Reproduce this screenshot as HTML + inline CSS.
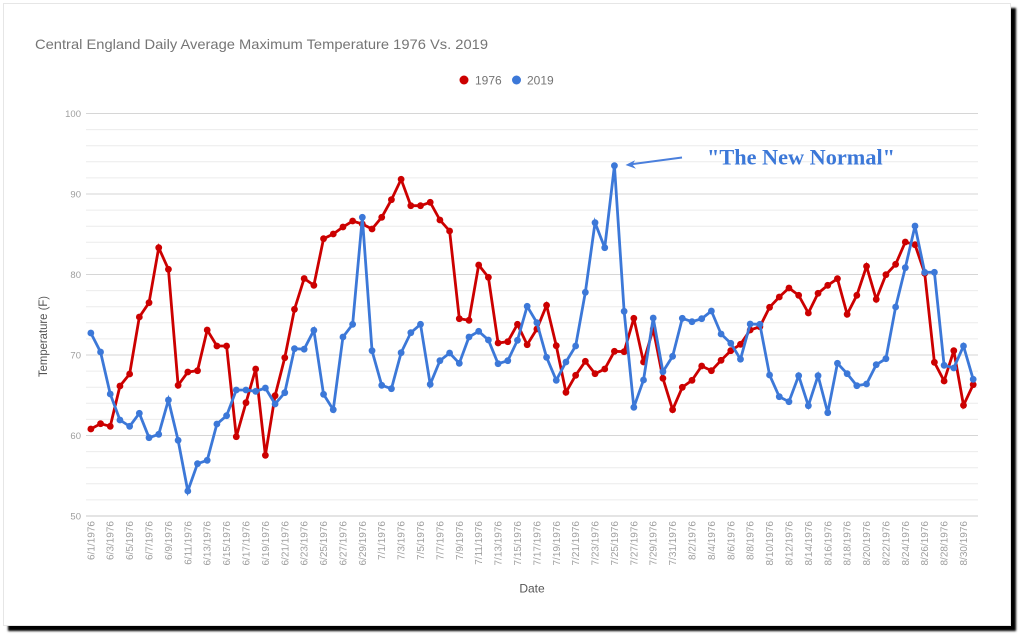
<!DOCTYPE html>
<html>
<head>
<meta charset="utf-8">
<style>
  html,body{margin:0;padding:0;background:#fff;width:1024px;height:640px;overflow:hidden;}
  .card{position:absolute;left:3px;top:3px;width:1008px;height:623px;background:#fff;border:1px solid #e6e6e6;box-sizing:border-box;box-shadow:5px 5px 2px #000;}
  svg{position:absolute;left:0;top:0;}
  text{font-family:"Liberation Sans",Arial,sans-serif;}
  .xl{font-size:10px;fill:#9e9e9e;}
  .yl{font-size:9.5px;fill:#9e9e9e;}
  text.ann{font-family:"Liberation Serif","DejaVu Serif",serif;font-weight:bold;}
</style>
</head>
<body>
<div class="card"></div>
<svg width="1024" height="640" viewBox="0 0 1024 640" xmlns="http://www.w3.org/2000/svg">
  <defs>
    <marker id="mr" markerWidth="8" markerHeight="8" refX="4" refY="4" markerUnits="userSpaceOnUse"><circle cx="4" cy="4" r="3.4" fill="#cc0000"/></marker>
    <marker id="mb" markerWidth="8" markerHeight="8" refX="4" refY="4" markerUnits="userSpaceOnUse"><circle cx="4" cy="4" r="3.4" fill="#3c78d8"/></marker>
  </defs>

  <!-- title -->
  <text x="35" y="49" font-size="14" fill="#757575" textLength="453" lengthAdjust="spacingAndGlyphs">Central England Daily Average Maximum Temperature 1976 Vs. 2019</text>

  <!-- legend -->
  <circle cx="464" cy="80" r="4.5" fill="#cc0000"/>
  <text x="475" y="84.3" font-size="12" fill="#757575">1976</text>
  <circle cx="516.5" cy="80" r="4.5" fill="#3c78d8"/>
  <text x="527" y="84.3" font-size="12" fill="#757575">2019</text>

  <!-- minor gridlines -->
  <g stroke="#ececec" stroke-width="1">
    <line x1="86" x2="978" y1="499.9" y2="499.9"/><line x1="86" x2="978" y1="483.8" y2="483.8"/><line x1="86" x2="978" y1="467.7" y2="467.7"/><line x1="86" x2="978" y1="451.6" y2="451.6"/>
    <line x1="86" x2="978" y1="419.4" y2="419.4"/><line x1="86" x2="978" y1="403.3" y2="403.3"/><line x1="86" x2="978" y1="387.2" y2="387.2"/><line x1="86" x2="978" y1="371.1" y2="371.1"/>
    <line x1="86" x2="978" y1="338.9" y2="338.9"/><line x1="86" x2="978" y1="322.8" y2="322.8"/><line x1="86" x2="978" y1="306.7" y2="306.7"/><line x1="86" x2="978" y1="290.6" y2="290.6"/>
    <line x1="86" x2="978" y1="258.4" y2="258.4"/><line x1="86" x2="978" y1="242.3" y2="242.3"/><line x1="86" x2="978" y1="226.2" y2="226.2"/><line x1="86" x2="978" y1="210.1" y2="210.1"/>
    <line x1="86" x2="978" y1="177.9" y2="177.9"/><line x1="86" x2="978" y1="161.8" y2="161.8"/><line x1="86" x2="978" y1="145.7" y2="145.7"/><line x1="86" x2="978" y1="129.6" y2="129.6"/>
  </g>
  <!-- major gridlines -->
  <g stroke="#d6d6d6" stroke-width="1">
    <line x1="86" x2="978" y1="113.5" y2="113.5"/>
    <line x1="86" x2="978" y1="194" y2="194"/>
    <line x1="86" x2="978" y1="274.5" y2="274.5"/>
    <line x1="86" x2="978" y1="355" y2="355"/>
    <line x1="86" x2="978" y1="435.5" y2="435.5"/>
  </g>
  <line x1="86" x2="978" y1="516" y2="516" stroke="#c8c8c8" stroke-width="1"/>

  <!-- y labels -->
  <g class="yl" text-anchor="end">
    <text x="81" y="116.8">100</text>
    <text x="81" y="197.3">90</text>
    <text x="81" y="277.8">80</text>
    <text x="81" y="358.3">70</text>
    <text x="81" y="438.8">60</text>
    <text x="81" y="519.3">50</text>
  </g>

  <!-- y axis title -->
  <text transform="translate(47,336.5) rotate(-90)" text-anchor="middle" font-size="12" fill="#555" textLength="81" lengthAdjust="spacingAndGlyphs">Temperature (F)</text>

  <!-- x labels -->
  <g class="xl" text-anchor="end">
    <text transform="translate(94.35,521) rotate(-90)">6/1/1976</text>
    <text transform="translate(113.74,521) rotate(-90)">6/3/1976</text>
    <text transform="translate(133.13,521) rotate(-90)">6/5/1976</text>
    <text transform="translate(152.53,521) rotate(-90)">6/7/1976</text>
    <text transform="translate(171.92,521) rotate(-90)">6/9/1976</text>
    <text transform="translate(191.31,521) rotate(-90)">6/11/1976</text>
    <text transform="translate(210.7,521) rotate(-90)">6/13/1976</text>
    <text transform="translate(230.09,521) rotate(-90)">6/15/1976</text>
    <text transform="translate(249.49,521) rotate(-90)">6/17/1976</text>
    <text transform="translate(268.88,521) rotate(-90)">6/19/1976</text>
    <text transform="translate(288.27,521) rotate(-90)">6/21/1976</text>
    <text transform="translate(307.66,521) rotate(-90)">6/23/1976</text>
    <text transform="translate(327.05,521) rotate(-90)">6/25/1976</text>
    <text transform="translate(346.45,521) rotate(-90)">6/27/1976</text>
    <text transform="translate(365.84,521) rotate(-90)">6/29/1976</text>
    <text transform="translate(385.23,521) rotate(-90)">7/1/1976</text>
    <text transform="translate(404.62,521) rotate(-90)">7/3/1976</text>
    <text transform="translate(424.01,521) rotate(-90)">7/5/1976</text>
    <text transform="translate(443.41,521) rotate(-90)">7/7/1976</text>
    <text transform="translate(462.8,521) rotate(-90)">7/9/1976</text>
    <text transform="translate(482.19,521) rotate(-90)">7/11/1976</text>
    <text transform="translate(501.58,521) rotate(-90)">7/13/1976</text>
    <text transform="translate(520.97,521) rotate(-90)">7/15/1976</text>
    <text transform="translate(540.37,521) rotate(-90)">7/17/1976</text>
    <text transform="translate(559.76,521) rotate(-90)">7/19/1976</text>
    <text transform="translate(579.15,521) rotate(-90)">7/21/1976</text>
    <text transform="translate(598.54,521) rotate(-90)">7/23/1976</text>
    <text transform="translate(617.93,521) rotate(-90)">7/25/1976</text>
    <text transform="translate(637.33,521) rotate(-90)">7/27/1976</text>
    <text transform="translate(656.72,521) rotate(-90)">7/29/1976</text>
    <text transform="translate(676.11,521) rotate(-90)">7/31/1976</text>
    <text transform="translate(695.5,521) rotate(-90)">8/2/1976</text>
    <text transform="translate(714.89,521) rotate(-90)">8/4/1976</text>
    <text transform="translate(734.29,521) rotate(-90)">8/6/1976</text>
    <text transform="translate(753.68,521) rotate(-90)">8/8/1976</text>
    <text transform="translate(773.07,521) rotate(-90)">8/10/1976</text>
    <text transform="translate(792.46,521) rotate(-90)">8/12/1976</text>
    <text transform="translate(811.85,521) rotate(-90)">8/14/1976</text>
    <text transform="translate(831.25,521) rotate(-90)">8/16/1976</text>
    <text transform="translate(850.64,521) rotate(-90)">8/18/1976</text>
    <text transform="translate(870.03,521) rotate(-90)">8/20/1976</text>
    <text transform="translate(889.42,521) rotate(-90)">8/22/1976</text>
    <text transform="translate(908.81,521) rotate(-90)">8/24/1976</text>
    <text transform="translate(928.21,521) rotate(-90)">8/26/1976</text>
    <text transform="translate(947.6,521) rotate(-90)">8/28/1976</text>
    <text transform="translate(966.99,521) rotate(-90)">8/30/1976</text>
  </g>

  <!-- x axis title -->
  <text x="532" y="592.3" text-anchor="middle" font-size="12" fill="#555">Date</text>

  <!-- 1976 series -->
  <polyline fill="none" stroke="#cc0000" stroke-width="2.8" marker-start="url(#mr)" marker-mid="url(#mr)" marker-end="url(#mr)"
    points="90.85,429 100.55,423.7 110.24,426.3 119.94,386 129.63,374 139.33,317 149.03,302.7 158.72,247.7 168.42,269.3 178.11,385.3 187.81,372 197.51,370.7 207.2,330 216.9,346 226.59,346 236.29,436.7 245.99,402.7 255.68,369 265.38,455.3 275.07,395.7 284.77,357.7 294.47,309.3 304.16,278.5 313.86,285.3 323.55,238.7 333.25,234 342.95,227 352.64,221 362.34,224 372.03,229 381.73,217.3 391.43,199.7 401.12,179.3 410.82,205.7 420.51,205.7 430.21,202.3 439.91,220 449.6,231 459.3,318.7 468.99,320.3 478.69,265 488.39,277.3 498.08,343 507.78,341.7 517.47,324.3 527.17,344.7 536.87,329 546.56,305.3 556.26,345.7 565.95,392.3 575.65,375.3 585.35,361.3 595.04,373.7 604.74,369 614.43,351.3 624.13,351.7 633.83,318.3 643.52,362 653.22,329 662.91,378.3 672.61,409.7 682.31,387.3 692,380.3 701.7,366 711.39,370.7 721.09,360.3 730.79,350.7 740.48,344.3 750.18,330 759.87,326.7 769.57,307.3 779.27,297 788.96,288 798.66,295.3 808.35,313 818.05,293.3 827.75,285.3 837.44,278.7 847.14,314.3 856.83,295.3 866.53,266.3 876.23,299.3 885.92,274.7 895.62,264.3 905.31,242 915.01,244.7 924.71,273.3 934.4,362.3 944.1,381 953.79,350.7 963.49,405.3 973.19,384.7"/>

  <!-- 2019 series -->
  <polyline fill="none" stroke="#3c78d8" stroke-width="2.8" marker-start="url(#mb)" marker-mid="url(#mb)" marker-end="url(#mb)"
    points="90.85,333 100.55,352 110.24,394 119.94,420 129.63,426.3 139.33,413.3 149.03,437.7 158.72,434.3 168.42,400 178.11,440.3 187.81,491 197.51,463.7 207.2,460.3 216.9,424 226.59,415.7 236.29,390 245.99,390 255.68,391.3 265.38,388 275.07,404 284.77,392.7 294.47,348.7 304.16,349.2 313.86,330.3 323.55,394.3 333.25,409.7 342.95,337 352.64,324.3 362.34,217.3 372.03,350.7 381.73,385.3 391.43,388.7 401.12,352.7 410.82,332.7 420.51,324.3 430.21,384.3 439.91,360.7 449.6,353 459.3,363.3 468.99,337 478.69,331.3 488.39,340 498.08,363.7 507.78,360.7 517.47,340.3 527.17,306.3 536.87,322.7 546.56,357.3 556.26,380.3 565.95,362 575.65,346 585.35,292.3 595.04,222.7 604.74,247.7 614.43,165.7 624.13,311.3 633.83,407.3 643.52,380 653.22,318 662.91,371.7 672.61,356.3 682.31,318.3 692,321.7 701.7,318.7 711.39,311 721.09,334 730.79,343.3 740.48,359.2 750.18,324 759.87,324.3 769.57,375 779.27,396.7 788.96,401.7 798.66,375.7 808.35,405.7 818.05,375.7 827.75,412.7 837.44,363.3 847.14,373.7 856.83,385.7 866.53,384 876.23,364.7 885.92,358.7 895.62,307 905.31,267.7 915.01,226 924.71,272.3 934.4,272.3 944.1,365.3 953.79,368 963.49,346 973.19,379.3"/>

  <!-- annotation -->
  <line x1="682" y1="157.5" x2="631" y2="164.3" stroke="#4a7fdc" stroke-width="2"/>
  <polygon points="625.5,165 635,160.3 632.5,164.6 636,168.8" fill="#4a7fdc"/>
  <text class="ann" x="707" y="164.5" font-size="22" fill="#3c78d8" textLength="188" lengthAdjust="spacingAndGlyphs" style="font-family:'Liberation Serif','DejaVu Serif',serif;font-weight:bold;">"The New Normal"</text>
</svg>
</body>
</html>
